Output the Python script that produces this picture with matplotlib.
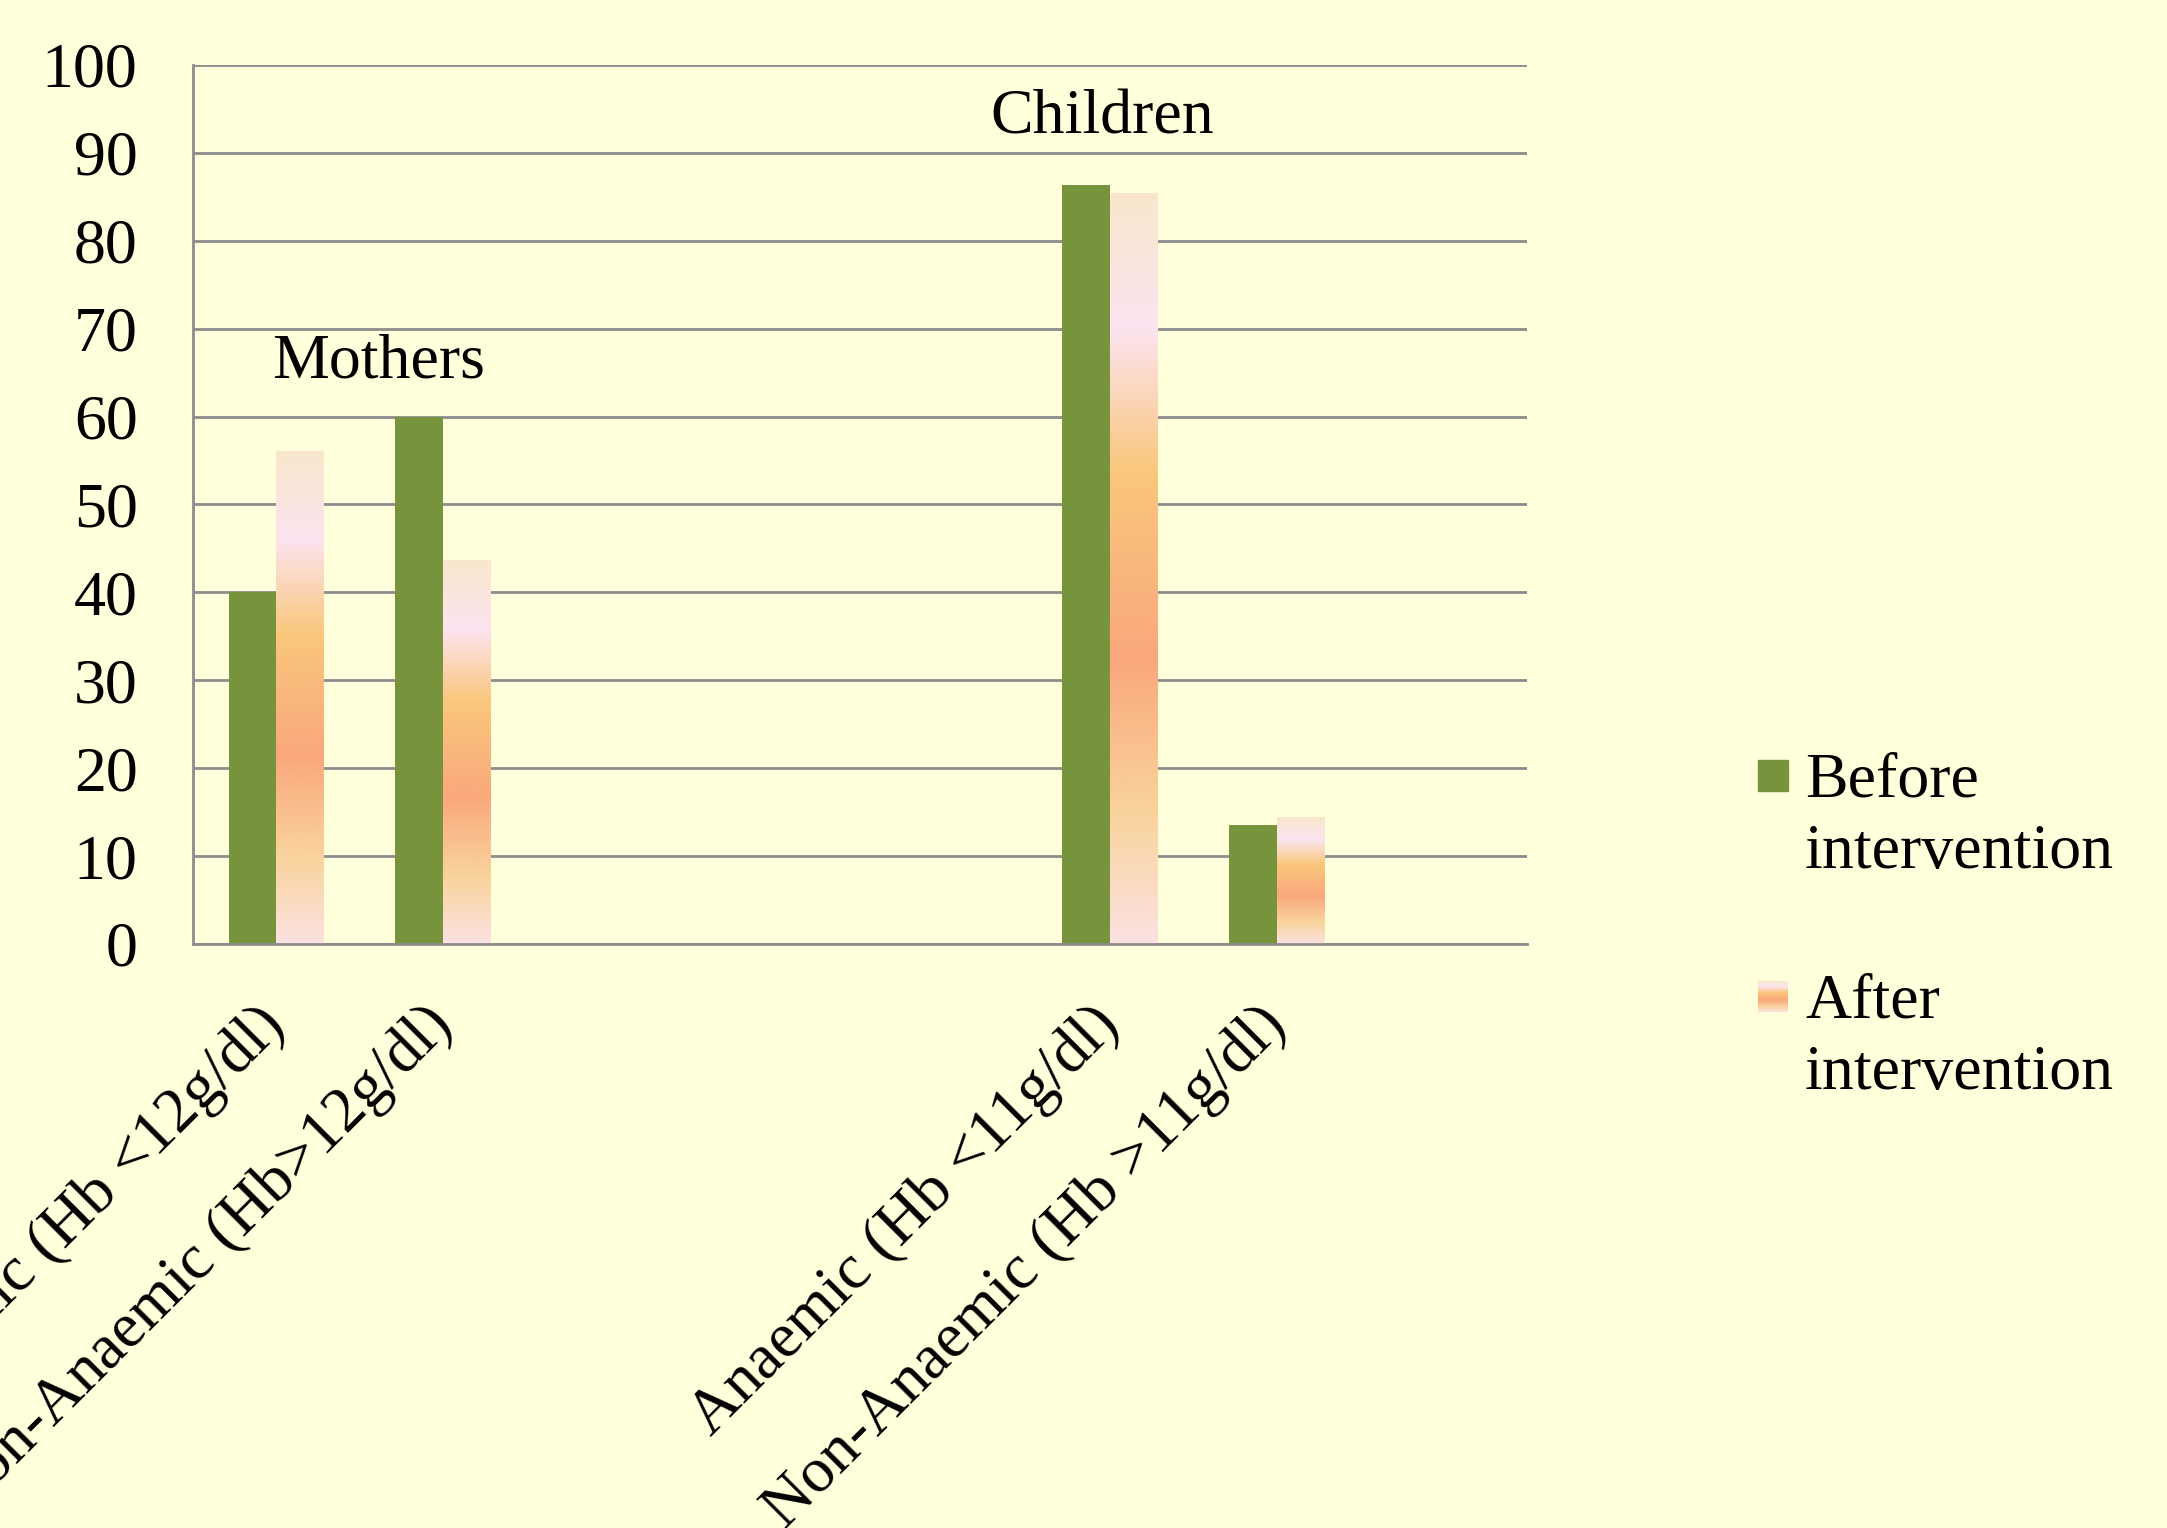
import numpy as np
import matplotlib
matplotlib.use("Agg")
import matplotlib.pyplot as plt
from matplotlib.colors import LinearSegmentedColormap
from matplotlib.patches import Rectangle

categories = ["Anaemic (Hb <12g/dl)", "Non-Anaemic (Hb>12g/dl)", "", "", "",
              "Anaemic (Hb <11g/dl)", "Non-Anaemic (Hb >11g/dl)", ""]
before = [40, 60, 0, 0, 0, 86.3, 13.5, 0]
after = [56.1, 43.7, 0, 0, 0, 85.4, 14.4, 0]
yticks = [0, 10, 20, 30, 40, 50, 60, 70, 80, 90, 100]

bg = "#FFFFDB"
green = "#77933C"
grid_c = "#8C8C8C"
grad = LinearSegmentedColormap.from_list("after", [
    (0.0, "#FCE2E2"), (0.17, "#F9D49E"), (0.38, "#F9A87C"),
    (0.63, "#F9C77C"), (0.82, "#FCE4F0"), (1.0, "#F9E7CD")])

plt.rcParams['font.family'] = ['Liberation Serif', 'DejaVu Serif']
fs = 46

fig = plt.figure(figsize=(21.67, 15.28), dpi=100, facecolor=bg)
ax = fig.add_axes([0.0891, 0.3822, 0.6156, 0.5753], facecolor=bg)

x = np.arange(len(categories))
w = 0.287
b1 = ax.bar(x - w / 2, before, w, color=green, zorder=3)
b2 = ax.bar(x + w / 2, after, w, color="none", zorder=3)

gimg = np.linspace(0, 1, 256).reshape(-1, 1)
for p in b2.patches:
    if p.get_height() <= 0:
        continue
    x0, y0 = p.get_x(), p.get_y()
    im = ax.imshow(gimg, cmap=grad, origin="lower", aspect="auto", zorder=3,
                   extent=[x0, x0 + p.get_width(), y0, y0 + p.get_height()],
                   interpolation="bilinear")
    im.set_clip_path(p)

ax.set_xlim(-0.5, len(categories) - 0.5)
ax.set_ylim(0, 100)
ax.set_yticks(yticks)
ax.tick_params(axis="y", length=0, pad=40, labelsize=fs)
ax.set_xticks(x)
ax.set_xticklabels(categories, rotation=45, ha="right", va="center",
                   rotation_mode="anchor", fontsize=fs)
ax.tick_params(axis="x", length=0, pad=52)
ax.yaxis.grid(True, color=grid_c, linewidth=2, zorder=0)
ax.set_axisbelow(True)
for s in ["top", "right"]:
    ax.spines[s].set_visible(False)
for s in ["left", "bottom"]:
    ax.spines[s].set_color(grid_c)
    ax.spines[s].set_linewidth(2)
    ax.spines[s].set_zorder(4)

ax.text(0.61, 64.5, "Mothers", ha="center", va="baseline", fontsize=fs)
ax.text(4.955, 92.2, "Children", ha="center", va="baseline", fontsize=fs)

# legend drawn by hand so the swatch sits on the first line
W, H = 2167, 1528
fig.patches.append(Rectangle((1758 / W, 1 - 791 / H), 30 / W, 31 / H,
                             transform=fig.transFigure, color=green))
sw = fig.add_axes([1758 / W, 1 - 1012 / H, 30 / W, 31 / H])
sw.imshow(gimg, cmap=grad, origin="lower", aspect="auto")
sw.axis("off")
fig.text(1805 / W, 1 - 868 / H, "Before\nintervention", fontsize=fs,
         va="baseline", ha="left", linespacing=1.3)
fig.text(1805 / W, 1 - 1089 / H, "After\nintervention", fontsize=fs,
         va="baseline", ha="left", linespacing=1.3)

fig.savefig("out.png", dpi=100, facecolor=bg)
